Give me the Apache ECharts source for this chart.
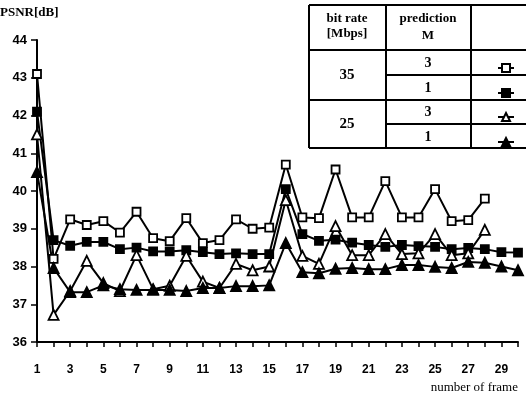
<!DOCTYPE html>
<html>
<head>
<meta charset="utf-8">
<script src="https://cdn.jsdelivr.net/npm/echarts@6/dist/echarts.min.js"></script>
<style>html,body{margin:0;padding:0;background:#fff}#c{width:526px;height:403px}</style>
</head>
<body>
<div id="c"></div>
<script>
const frames = Array.from({length: 30}, (_, i) => String(i + 1));
const yTicks = [36, 37, 38, 39, 40, 41, 42, 43, 44];
const r35m3 = [43.1, 38.2, 39.25, 39.1, 39.2, 38.9, 39.45, 38.75, 38.67, 39.28, 38.62, 38.7, 39.25, 39.0, 39.03, 40.7, 39.3, 39.28, 40.57, 39.3, 39.3, 40.26, 39.3, 39.3, 40.05, 39.2, 39.23, 39.8];
const r35m1 = [42.1, 38.7, 38.55, 38.65, 38.65, 38.46, 38.5, 38.4, 38.4, 38.43, 38.38, 38.33, 38.35, 38.33, 38.33, 40.05, 38.86, 38.68, 38.71, 38.63, 38.57, 38.52, 38.57, 38.54, 38.52, 38.46, 38.49, 38.46, 38.38, 38.37];
const r25m3 = [41.5, 36.72, 37.35, 38.15, 37.56, 37.35, 38.3, 37.4, 37.49, 38.28, 37.6, 37.43, 38.07, 37.9, 38.0, 39.76, 38.28, 38.07, 39.07, 38.3, 38.3, 38.86, 38.33, 38.35, 38.86, 38.3, 38.35, 38.97];
const r25m1 = [40.5, 37.96, 37.32, 37.32, 37.5, 37.4, 37.38, 37.38, 37.38, 37.35, 37.43, 37.43, 37.48, 37.48, 37.5, 38.62, 37.85, 37.82, 37.94, 37.96, 37.93, 37.93, 38.04, 38.04, 37.99, 37.96, 38.12, 38.1, 38.0, 37.9];
const seriesNames = ['35 Mbps, M=3', '35 Mbps, M=1', '25 Mbps, M=3', '25 Mbps, M=1'];
const headerCol1 = ['bit rate', '[Mbps]'];
const headerCol2 = ['prediction', 'M'];
const rateLabels = ['35', '25'];
const mLabels = ['3', '1', '3', '1'];

const chart = echarts.init(document.getElementById('c'), null, {renderer: 'canvas'});
const serif = '"Liberation Serif", "DejaVu Serif", serif';
const sans = '"Liberation Sans", Arial, sans-serif';

function mk(name, data, symbol, filled) {
  return {
    name, type: 'line', data, symbol, symbolSize: symbol === 'triangle' ? 10 : 8,
    showSymbol: true,
    lineStyle: {color: '#000', width: 2},
    itemStyle: {color: filled ? '#000' : '#fff', borderColor: '#000', borderWidth: 1.8},
    emphasis: {disabled: true},
    z: 3
  };
}

const tL = 309, c2 = 386, c3 = 471, tR = 527;
const rowsY = [5, 50, 75, 100, 124, 148];
const ln = (x1, y1, x2, y2, w) => ({type: 'line', shape: {x1, y1, x2, y2}, style: {stroke: '#000', lineWidth: w || 2}, z: 10});
const txt = (x, y, t, size, align, bold, font) => ({type: 'text', x, y, style: {text: t, fill: '#000', font: (bold ? 'bold ' : '') + size + 'px ' + (font || serif), textAlign: align || 'center', textVerticalAlign: 'middle'}, z: 11});

const graphics = [
  {type: 'rect', shape: {x: tL, y: rowsY[0], width: tR - tL, height: rowsY[5] - rowsY[0]}, style: {fill: '#fff'}, z: 9},
  ln(tL, rowsY[0], tR, rowsY[0]),
  ln(tL, rowsY[1], tR, rowsY[1]),
  ln(c2, rowsY[2], tR, rowsY[2]),
  ln(tL, rowsY[3], tR, rowsY[3]),
  ln(c2, rowsY[4], tR, rowsY[4]),
  ln(tL, rowsY[5], tR, rowsY[5]),
  ln(tL, rowsY[0], tL, rowsY[5]),
  ln(c2, rowsY[0], c2, rowsY[5]),
  ln(c3, rowsY[0], c3, rowsY[5]),
  txt(347, 19, headerCol1[0], 13, 'center', true),
  txt(347, 34, headerCol1[1], 13, 'center', true),
  txt(428, 19, headerCol2[0], 13, 'center', true),
  txt(428, 36, headerCol2[1], 13, 'center', true),
  txt(347, 75, rateLabels[0], 15, 'center', true),
  txt(347, 124, rateLabels[1], 15, 'center', true),
  txt(428, 63, mLabels[0], 14, 'center', true),
  txt(428, 88, mLabels[1], 14, 'center', true),
  txt(428, 112, mLabels[2], 14, 'center', true),
  txt(428, 137, mLabels[3], 14, 'center', true),
  txt(0, 13, 'PSNR[dB]', 13, 'left', true),
  txt(518, 388, 'number of frame', 13, 'right', false)
];

const legendRows = [63, 88, 112, 137];
const legends = seriesNames.map((n, i) => ({
  data: [n], left: 492, top: legendRows[i] - 5, itemWidth: 16, itemHeight: 10, itemGap: 0,
  formatter: () => '', selectedMode: false, z: 12,
  textStyle: {fontSize: 1}
}));

chart.setOption({
  animation: false,
  backgroundColor: '#fff',
  grid: {left: 37, right: 8, top: 40, bottom: 61, containLabel: false},
  legend: legends,
  xAxis: {
    type: 'category', data: frames, boundaryGap: false,
    axisLine: {lineStyle: {color: '#000', width: 2}},
    axisTick: {show: true, interval: 0, length: 5, lineStyle: {color: '#000', width: 1.5}},
    axisLabel: {interval: 1, color: '#000', fontFamily: sans, fontWeight: 'bold', fontSize: 12, margin: 22},
    splitLine: {show: false}
  },
  yAxis: {
    type: 'value', min: yTicks[0], max: yTicks[yTicks.length - 1], interval: 1,
    axisLine: {show: true, lineStyle: {color: '#000', width: 2}},
    axisTick: {show: true, length: 6, lineStyle: {color: '#000', width: 1.5}},
    axisLabel: {color: '#000', fontFamily: sans, fontWeight: 'bold', fontSize: 13, margin: 10},
    splitLine: {show: false}
  },
  series: [
    mk(seriesNames[0], r35m3, 'rect', false),
    mk(seriesNames[1], r35m1, 'rect', true),
    mk(seriesNames[2], r25m3, 'triangle', false),
    mk(seriesNames[3], r25m1, 'triangle', true)
  ],
  graphic: graphics
});
</script>
</body>
</html>
